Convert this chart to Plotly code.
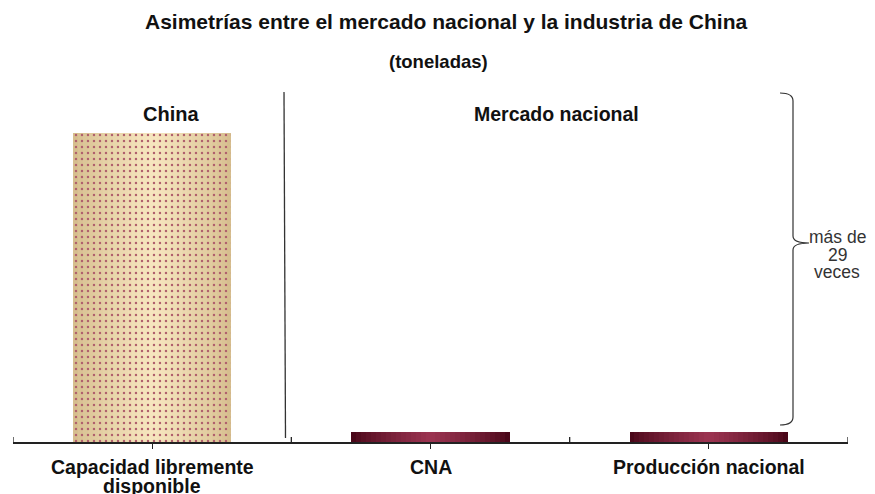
import plotly.graph_objects as go

categorias = ["Capacidad libremente<br>disponible", "CNA", "Producción nacional"]
toneladas = [310000, 10000, 10000]
grupos = ["China", "Mercado nacional"]
nota_brace = "más de<br>29<br>veces"
titulo = "Asimetrías entre el mercado nacional y la industria de China"
subtitulo = "(toneladas)"

FONT = "Liberation Sans, Arial, sans-serif"
W, H = 875, 494
OFF = 8  # page body margin in the browser
SL, SR, ST, SB = 13, 848, 90, 442  # plot area in screen pixels
PW, PH = SR - SL, SB - ST
ML, MT = SL - OFF, ST - OFF
MR, MB = W - (SR - OFF), H - (SB - OFF)

def px(x):
    return (x - SL) / PW

def py(y):
    return (SB - y) / PH

def mix(c1, c2, t):
    a = [int(c1[i:i + 2], 16) for i in (1, 3, 5)]
    b = [int(c2[i:i + 2], 16) for i in (1, 3, 5)]
    return "#" + "".join(f"{round(a[k] + (b[k] - a[k]) * t):02x}" for k in range(3))

xs = list(range(len(categorias)))
BW = 0.57
N = 16
fig = go.Figure()

for k in range(N):
    t = k / (N - 1)
    w = BW * (1 - 0.94 * t)
    fig.add_trace(go.Bar(x=xs[:1], y=toneladas[:1], width=w,
                         marker=dict(color=mix("#D6BE8E", "#F6E5BE", t ** 0.8), line=dict(width=0)),
                         hoverinfo="skip", showlegend=False))
    fig.add_trace(go.Bar(x=xs[1:], y=toneladas[1:], width=w,
                         marker=dict(color=mix("#4A0719", "#9A3350", t ** 0.8), line=dict(width=0)),
                         hoverinfo="skip", showlegend=False))
fig.add_trace(go.Bar(x=xs[:1], y=toneladas[:1], width=BW,
                     marker=dict(color="rgba(0,0,0,0)", line=dict(width=0),
                                 pattern=dict(shape=".", fgcolor="#B0606C", bgcolor="rgba(0,0,0,0)",
                                              size=6, solidity=0.13, fillmode="replace")),
                     hoverinfo="skip", showlegend=False))

ymax = toneladas[0] * PH / 309

shapes = []
for xb in [-0.5, 0.5, 1.5, 2.5]:
    shapes.append(dict(type="line", xref="x", yref="y", xsizemode="scaled", ysizemode="pixel",
                       yanchor=0, x0=xb, x1=xb, y0=-7, y1=5, line=dict(color="#222", width=1.3)))
shapes.append(dict(type="line", xref="paper", yref="paper", x0=px(284), x1=px(285.5),
                   y0=py(92), y1=py(438), line=dict(color="#333", width=1.3)))
pts = f"M {px(780)},{py(93)} Q {px(793)},{py(93)} {px(793)},{py(101)} L {px(793)},{py(236)} " \
      f"Q {px(793)},{py(243)} {px(809)},{py(243)} Q {px(793)},{py(243)} {px(793)},{py(250)} " \
      f"L {px(793)},{py(417)} Q {px(793)},{py(425)} {px(780)},{py(425)}"
shapes.append(dict(type="path", xref="paper", yref="paper", path=pts,
                   line=dict(color="#333", width=1.2)))

annotations = [
    dict(text=f"<b>{titulo}</b>", x=px(446), y=py(21), font=dict(size=21)),
    dict(text=f"<b>{subtitulo}</b>", x=px(438), y=py(62), font=dict(size=18.5)),
    dict(text=f"<b>{grupos[0]}</b>", x=px(171), y=py(114), font=dict(size=20)),
    dict(text=f"<b>{grupos[1]}</b>", x=px(556), y=py(114), font=dict(size=19.5)),
]
for i, line in enumerate(nota_brace.split("<br>")):
    annotations.append(dict(text=line, x=px(837), y=py(237 + 17.5 * i), font=dict(size=17.5, color="#333")))
for a in annotations:
    a.update(xref="paper", yref="paper")
for xi, cat in zip(xs, categorias):
    for j, line in enumerate(cat.split("<br>")):
        annotations.append(dict(text=f"<b>{line}</b>", x=xi, xref="x", y=py(467 + 19 * j), yref="paper",
                                font=dict(size=19.5)))
for a in annotations:
    a.update(showarrow=False, xanchor="center", yanchor="middle")
    a["font"].setdefault("color", "#111")
    a["font"]["family"] = FONT

fig.update_layout(
    width=W, height=H, margin=dict(l=ML, r=MR, t=MT, b=MB, autoexpand=False),
    paper_bgcolor="white", plot_bgcolor="white",
    font=dict(family=FONT, color="#111"),
    shapes=shapes, annotations=annotations, bargap=0, barmode="overlay",
    xaxis=dict(range=[-0.5, 2.5], tickvals=xs, showticklabels=False, automargin=False,
               ticks="outside", ticklen=5, tickcolor="#222", tickwidth=1.2,
               showline=True, linecolor="#222", linewidth=1.5, showgrid=False, zeroline=False),
    yaxis=dict(range=[0, ymax], visible=False, automargin=False),
)
fig.write_html("out.html")
